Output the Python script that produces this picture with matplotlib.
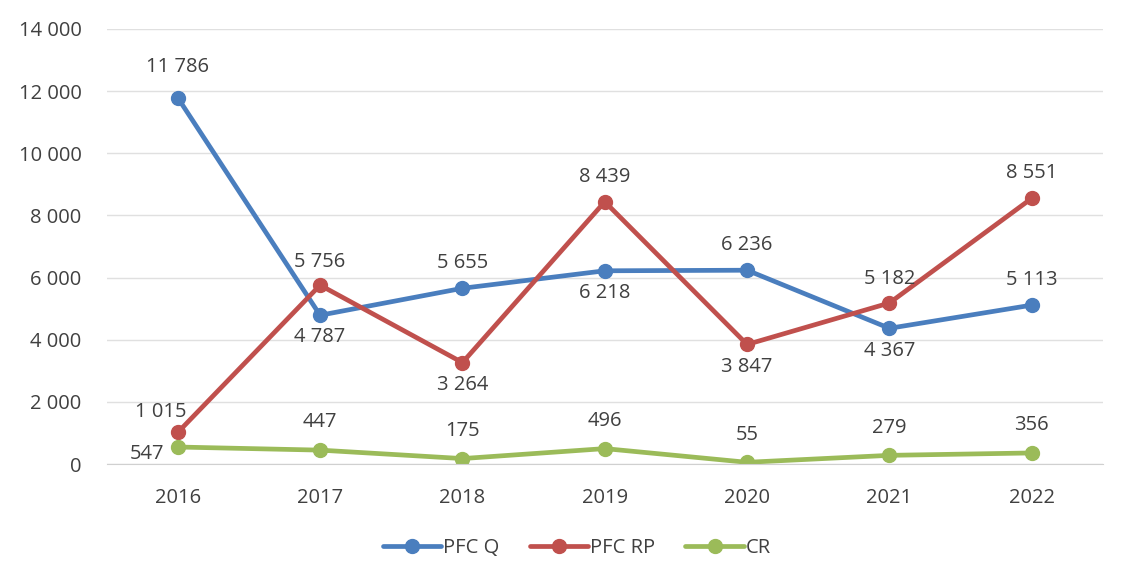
import matplotlib.pyplot as plt

years = ['2016', '2017', '2018', '2019', '2020', '2021', '2022']
pfc_q = [11786, 4787, 5655, 6218, 6236, 4367, 5113]
pfc_rp = [1015, 5756, 3264, 8439, 3847, 5182, 8551]
cr = [547, 447, 175, 496, 55, 279, 356]

# label offsets in points (dx, dy)
q_off = [(0, 22), (0, -16), (0, 18), (0, -16), (0, 18), (0, -16), (0, 18)]
rp_off = [(-12, 15), (0, 17), (0, -16), (0, 18), (0, -16), (0, 17), (0, 18)]
cr_off = [(-22, -5), (0, 20), (0, 20), (0, 20), (0, 20), (0, 20), (0, 20)]

plt.rcParams['font.family'] = ['Open Sans', 'DejaVu Sans']
txt = '#404040'

def fmt(v):
    return f'{v:,}'.replace(',', ' ')

fig = plt.figure(figsize=(11.22, 5.79), dpi=100)
ax = fig.add_axes([0.095, 0.1986, 0.888, 0.7514])

x = range(len(years))
series = [('PFC Q', pfc_q, '#4A7EBE', q_off),
          ('PFC RP', pfc_rp, '#C0504D', rp_off),
          ('CR', cr, '#9BBB59', cr_off)]
for name, vals, col, offs in series:
    ax.plot(x, vals, color=col, lw=3.4, marker='o', ms=10, label=name,
            solid_capstyle='round')
    for i, v in enumerate(vals):
        ax.annotate(fmt(v), (i, v), xytext=offs[i], textcoords='offset points',
                    ha='center', va='center', fontsize=14.5, color=txt)

ax.set_xlim(-0.5, 6.5)
ax.set_ylim(0, 14000)
ax.set_yticks(range(0, 14001, 2000))
ax.set_yticklabels([fmt(v) for v in range(0, 14001, 2000)])
ax.set_xticks(list(x))
ax.set_xticklabels(years)
ax.tick_params(length=0, labelsize=14.5, labelcolor=txt)
ax.tick_params(axis='y', pad=18)
ax.tick_params(axis='x', pad=17)
ax.grid(axis='y', color='#E0E0E0', lw=1)
ax.set_axisbelow(True)
for s in ['top', 'right', 'left']:
    ax.spines[s].set_visible(False)
ax.spines['bottom'].set_color('#D0D0D0')

leg = ax.legend(loc='center', bbox_to_anchor=(0.472, -0.193), ncol=3,
                frameon=False, fontsize=14.5, handlelength=2.9, columnspacing=1.5,
                handletextpad=0.1)
for t in leg.get_texts():
    t.set_color(txt)

fig.savefig('out.png', dpi=100)
